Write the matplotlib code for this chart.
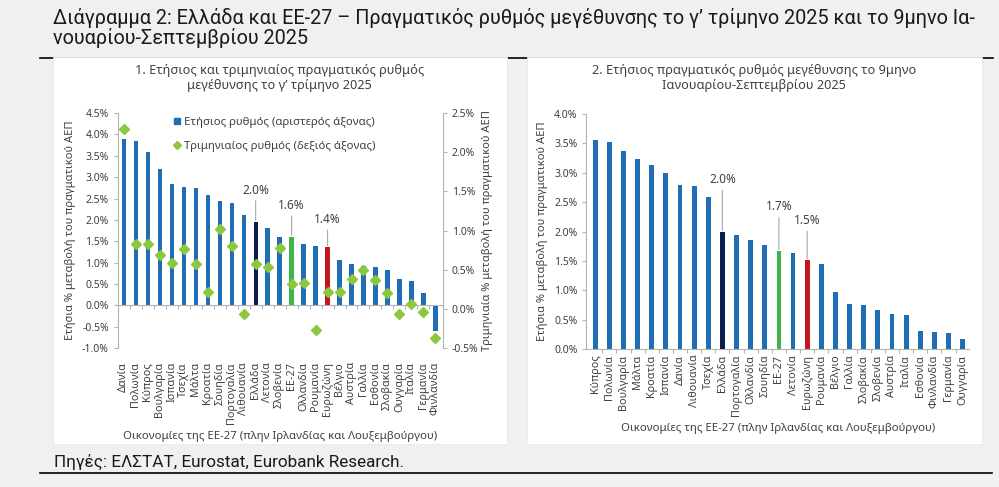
import numpy as np
import matplotlib
matplotlib.use("Agg")
import matplotlib.pyplot as plt
from matplotlib.lines import Line2D
from matplotlib.patches import Rectangle

plt.rcParams['font.family'] = ['Noto Sans', 'DejaVu Sans']

# --- data: panel 1, Q3 2025 ---
countries_q3 = ['Δανία', 'Πολωνία', 'Κύπρος', 'Βουλγαρία', 'Ισπανία', 'Τσεχία', 'Μάλτα',
                'Κροατία', 'Σουηδία', 'Πορτογαλία', 'Λιθουανία', 'Ελλάδα', 'Λετονία',
                'Σλοβενία', 'ΕΕ-27', 'Ολλανδία', 'Ρουμανία', 'Ευρωζώνη', 'Βέλγιο', 'Αυστρία',
                'Γαλλία', 'Εσθονία', 'Σλοβακία', 'Ουγγαρία', 'Ιταλία', 'Γερμανία', 'Φινλανδία']
annual_q3 = [3.88, 3.84, 3.59, 3.18, 2.83, 2.76, 2.74, 2.58, 2.44, 2.40, 2.11, 1.96, 1.80,
             1.60, 1.60, 1.44, 1.40, 1.37, 1.06, 0.98, 0.93, 0.91, 0.82, 0.61, 0.56, 0.29, -0.60]
quarterly_q3 = [2.30, 0.83, 0.83, 0.69, 0.59, 0.77, 0.57, 0.22, 1.02, 0.80, -0.06, 0.57, 0.53,
                0.78, 0.32, 0.33, -0.27, 0.22, 0.22, 0.38, 0.50, 0.37, 0.21, -0.07, 0.07, -0.04, -0.37]

# --- data: panel 2, 9 months Jan-Sep 2025 ---
countries_9m = ['Κύπρος', 'Πολωνία', 'Βουλγαρία', 'Μάλτα', 'Κροατία', 'Ισπανία', 'Δανία',
                'Λιθουανία', 'Τσεχία', 'Ελλάδα', 'Πορτογαλία', 'Ολλανδία', 'Σουηδία', 'ΕΕ-27',
                'Λετονία', 'Ευρωζώνη', 'Ρουμανία', 'Βέλγιο', 'Γαλλία', 'Σλοβακία', 'Σλοβενία',
                'Αυστρία', 'Ιταλία', 'Εσθονία', 'Φινλανδία', 'Γερμανία', 'Ουγγαρία']
annual_9m = [3.55, 3.52, 3.37, 3.24, 3.14, 2.99, 2.80, 2.78, 2.58, 1.99, 1.94, 1.85, 1.77, 1.67,
             1.63, 1.51, 1.44, 0.98, 0.76, 0.75, 0.67, 0.59, 0.58, 0.31, 0.29, 0.27, 0.17]

BLUE = '#1f6db5'
highlight = {'Ελλάδα': '#0c1c4c', 'ΕΕ-27': '#3db54a', 'Ευρωζώνη': '#c4161c'}
GREEN_MK = '#8dc63f'
SPINE = '#b4b4b4'
TXT = '#404040'
xlabel = 'Οικονομίες της ΕΕ-27 (πλην Ιρλανδίας και Λουξεμβούργου)'
ylabel = 'Ετήσια % μεταβολή του πραγματικού ΑΕΠ'
HEAD = ['Roboto', 'DejaVu Sans']


def pct(v, pos):
    return f'{v:.1f}%'


def style_y(ax, side):
    ax.tick_params(axis='y', which='both', labelsize=7.5, colors=TXT, length=3, color=SPINE, width=0.8)
    ax.spines[side].set_color(SPINE)
    ax.yaxis.set_major_formatter(pct)


fig = plt.figure(figsize=(9.99, 4.87), dpi=100)
fig.patch.set_facecolor('#f0f0f0')

# header rules and white panels (behind the axes)
fig.add_artist(Line2D([0.040, 0.994], [1 - 58 / 487] * 2, color='black', lw=1.2, zorder=-2))
fig.add_artist(Line2D([0.040, 0.993], [1 - 473 / 487] * 2, color='black', lw=1.2, zorder=-2))
for x0 in (0.053, 0.528):
    fig.add_artist(Rectangle((x0, 43 / 487), 0.455, 387 / 487, transform=fig.transFigure,
                             facecolor='white', edgecolor='#e8e8e8', lw=0.6, zorder=-1))

fig.text(0.053, 1 - 8 / 487, 'Διάγραμμα 2: Ελλάδα και ΕΕ-27 – Πραγματικός ρυθμός μεγέθυνσης το γ’ τρίμηνο 2025 και το 9μηνο Ια-\nνουαρίου-Σεπτεμβρίου 2025',
         ha='left', va='top', fontsize=14.3, color='#1a1a1a', family=HEAD, linespacing=0.98)
fig.text(0.054, 1 - 462 / 487, 'Πηγές: ΕΛΣΤΑΤ, Eurostat, Eurobank Research.',
         ha='left', va='center', fontsize=12.3, color='#1a1a1a', family=HEAD)

# ---------------- panel 1 ----------------
ax1 = fig.add_axes([0.118, 0.285, 0.325, 0.483])
x1 = np.arange(len(countries_q3))
ax1.bar(x1, annual_q3, width=0.36, color=[highlight.get(c, BLUE) for c in countries_q3], zorder=2)
ax1.set_xlim(-0.5, len(countries_q3) - 0.4)
ax1.set_ylim(-1.0, 4.5)
ax1.set_yticks(np.arange(-1.0, 4.51, 0.5))
style_y(ax1, 'left')
for s in ('top', 'right'):
    ax1.spines[s].set_visible(False)
ax1.spines['bottom'].set_position(('data', 0))
ax1.spines['bottom'].set_color(SPINE)
ax1.set_xticks(x1[:-1] + 0.5)
ax1.tick_params(axis='x', labelbottom=False, length=3, color=SPINE, width=0.8)
ax1.set_ylabel(ylabel, fontsize=8, color=TXT, labelpad=4)

sec1 = ax1.secondary_xaxis('bottom')
sec1.set_xticks(x1, labels=countries_q3, rotation=90)
sec1.tick_params(length=0, labelsize=7.8, colors=TXT, pad=10)
sec1.spines['bottom'].set_visible(False)
sec1.set_xlabel(xlabel, fontsize=8.2, color=TXT, labelpad=5)

ax1b = ax1.twinx()
ax1b.plot(x1, quarterly_q3, linestyle='none', marker='D', ms=5.5, color=GREEN_MK, zorder=3)
ax1b.set_ylim(-0.5, 2.5)
ax1b.set_yticks(np.arange(-0.5, 2.51, 0.5))
style_y(ax1b, 'right')
for s in ('top', 'bottom', 'left'):
    ax1b.spines[s].set_visible(False)
ax1b.set_ylabel('Τριμηνιαία % μεταβολή του πραγματικού ΑΕΠ', fontsize=8, color=TXT, labelpad=3)

handles = [Line2D([], [], linestyle='none', marker='s', ms=4.5, color=BLUE),
           Line2D([], [], linestyle='none', marker='D', ms=4.5, color=GREEN_MK)]
ax1b.legend(handles, ['Ετήσιος ρυθμός (αριστερός άξονας)', 'Τριμηνιαίος ρυθμός (δεξιός άξονας)'],
            loc='upper left', bbox_to_anchor=(0.14, 1.025), frameon=False, fontsize=8.2,
            handlelength=0.6, handletextpad=0.3, labelspacing=1.1, labelcolor=TXT)

offsets1 = {'Ελλάδα': 18, 'ΕΕ-27': 18, 'Ευρωζώνη': 15}
for name, off in offsets1.items():
    i = countries_q3.index(name)
    v = annual_q3[i]
    ax1.annotate(f'{v:.1f}%', xy=(i, v), xytext=(0, off), textcoords='offset points',
                 ha='center', va='bottom', fontsize=8.5, color=TXT,
                 arrowprops=dict(arrowstyle='-', color='#a8a8a8', lw=0.8, shrinkA=1, shrinkB=1))

fig.text(0.280, 1 - 64 / 487, '1. Ετήσιος και τριμηνιαίος πραγματικός ρυθμός\nμεγέθυνσης το γ’ τρίμηνο 2025',
         ha='center', va='top', fontsize=9.2, color=TXT, linespacing=1.15)

# ---------------- panel 2 ----------------
ax2 = fig.add_axes([0.587, 0.283, 0.383, 0.483])
x2 = np.arange(len(countries_9m))
ax2.bar(x2, annual_9m, width=0.34, color=[highlight.get(c, BLUE) for c in countries_9m], zorder=2)
ax2.set_xlim(-0.62, len(countries_9m) - 0.55)
ax2.set_ylim(0, 4.0)
ax2.set_yticks(np.arange(0, 4.01, 0.5))
style_y(ax2, 'left')
for s in ('top', 'right'):
    ax2.spines[s].set_visible(False)
ax2.spines['bottom'].set_color(SPINE)
ax2.set_xticks(x2, labels=countries_9m, rotation=90)
ax2.set_xticks(x2[:-1] + 0.5, minor=True)
ax2.tick_params(axis='x', which='major', length=0, labelsize=7.8, colors=TXT, pad=4)
ax2.tick_params(axis='x', which='minor', length=3, color=SPINE, width=0.8)
ax2.set_ylabel(ylabel, fontsize=8, color=TXT, labelpad=4)
ax2.set_xlabel(xlabel, fontsize=8.2, color=TXT, labelpad=5)

offsets2 = {'Ελλάδα': 33, 'ΕΕ-27': 27, 'Ευρωζώνη': 24}
for name, off in offsets2.items():
    i = countries_9m.index(name)
    v = annual_9m[i]
    ax2.annotate(f'{v:.1f}%', xy=(i, v), xytext=(0, off), textcoords='offset points',
                 ha='center', va='bottom', fontsize=8.5, color=TXT,
                 arrowprops=dict(arrowstyle='-', color='#a8a8a8', lw=0.8, shrinkA=1, shrinkB=1))

fig.text(0.755, 1 - 64 / 487, '2. Ετήσιος πραγματικός ρυθμός μεγέθυνσης το 9μηνο\nΙανουαρίου-Σεπτεμβρίου 2025',
         ha='center', va='top', fontsize=9.2, color=TXT, linespacing=1.15)

fig.savefig('out.png', dpi=100, facecolor=fig.get_facecolor())
